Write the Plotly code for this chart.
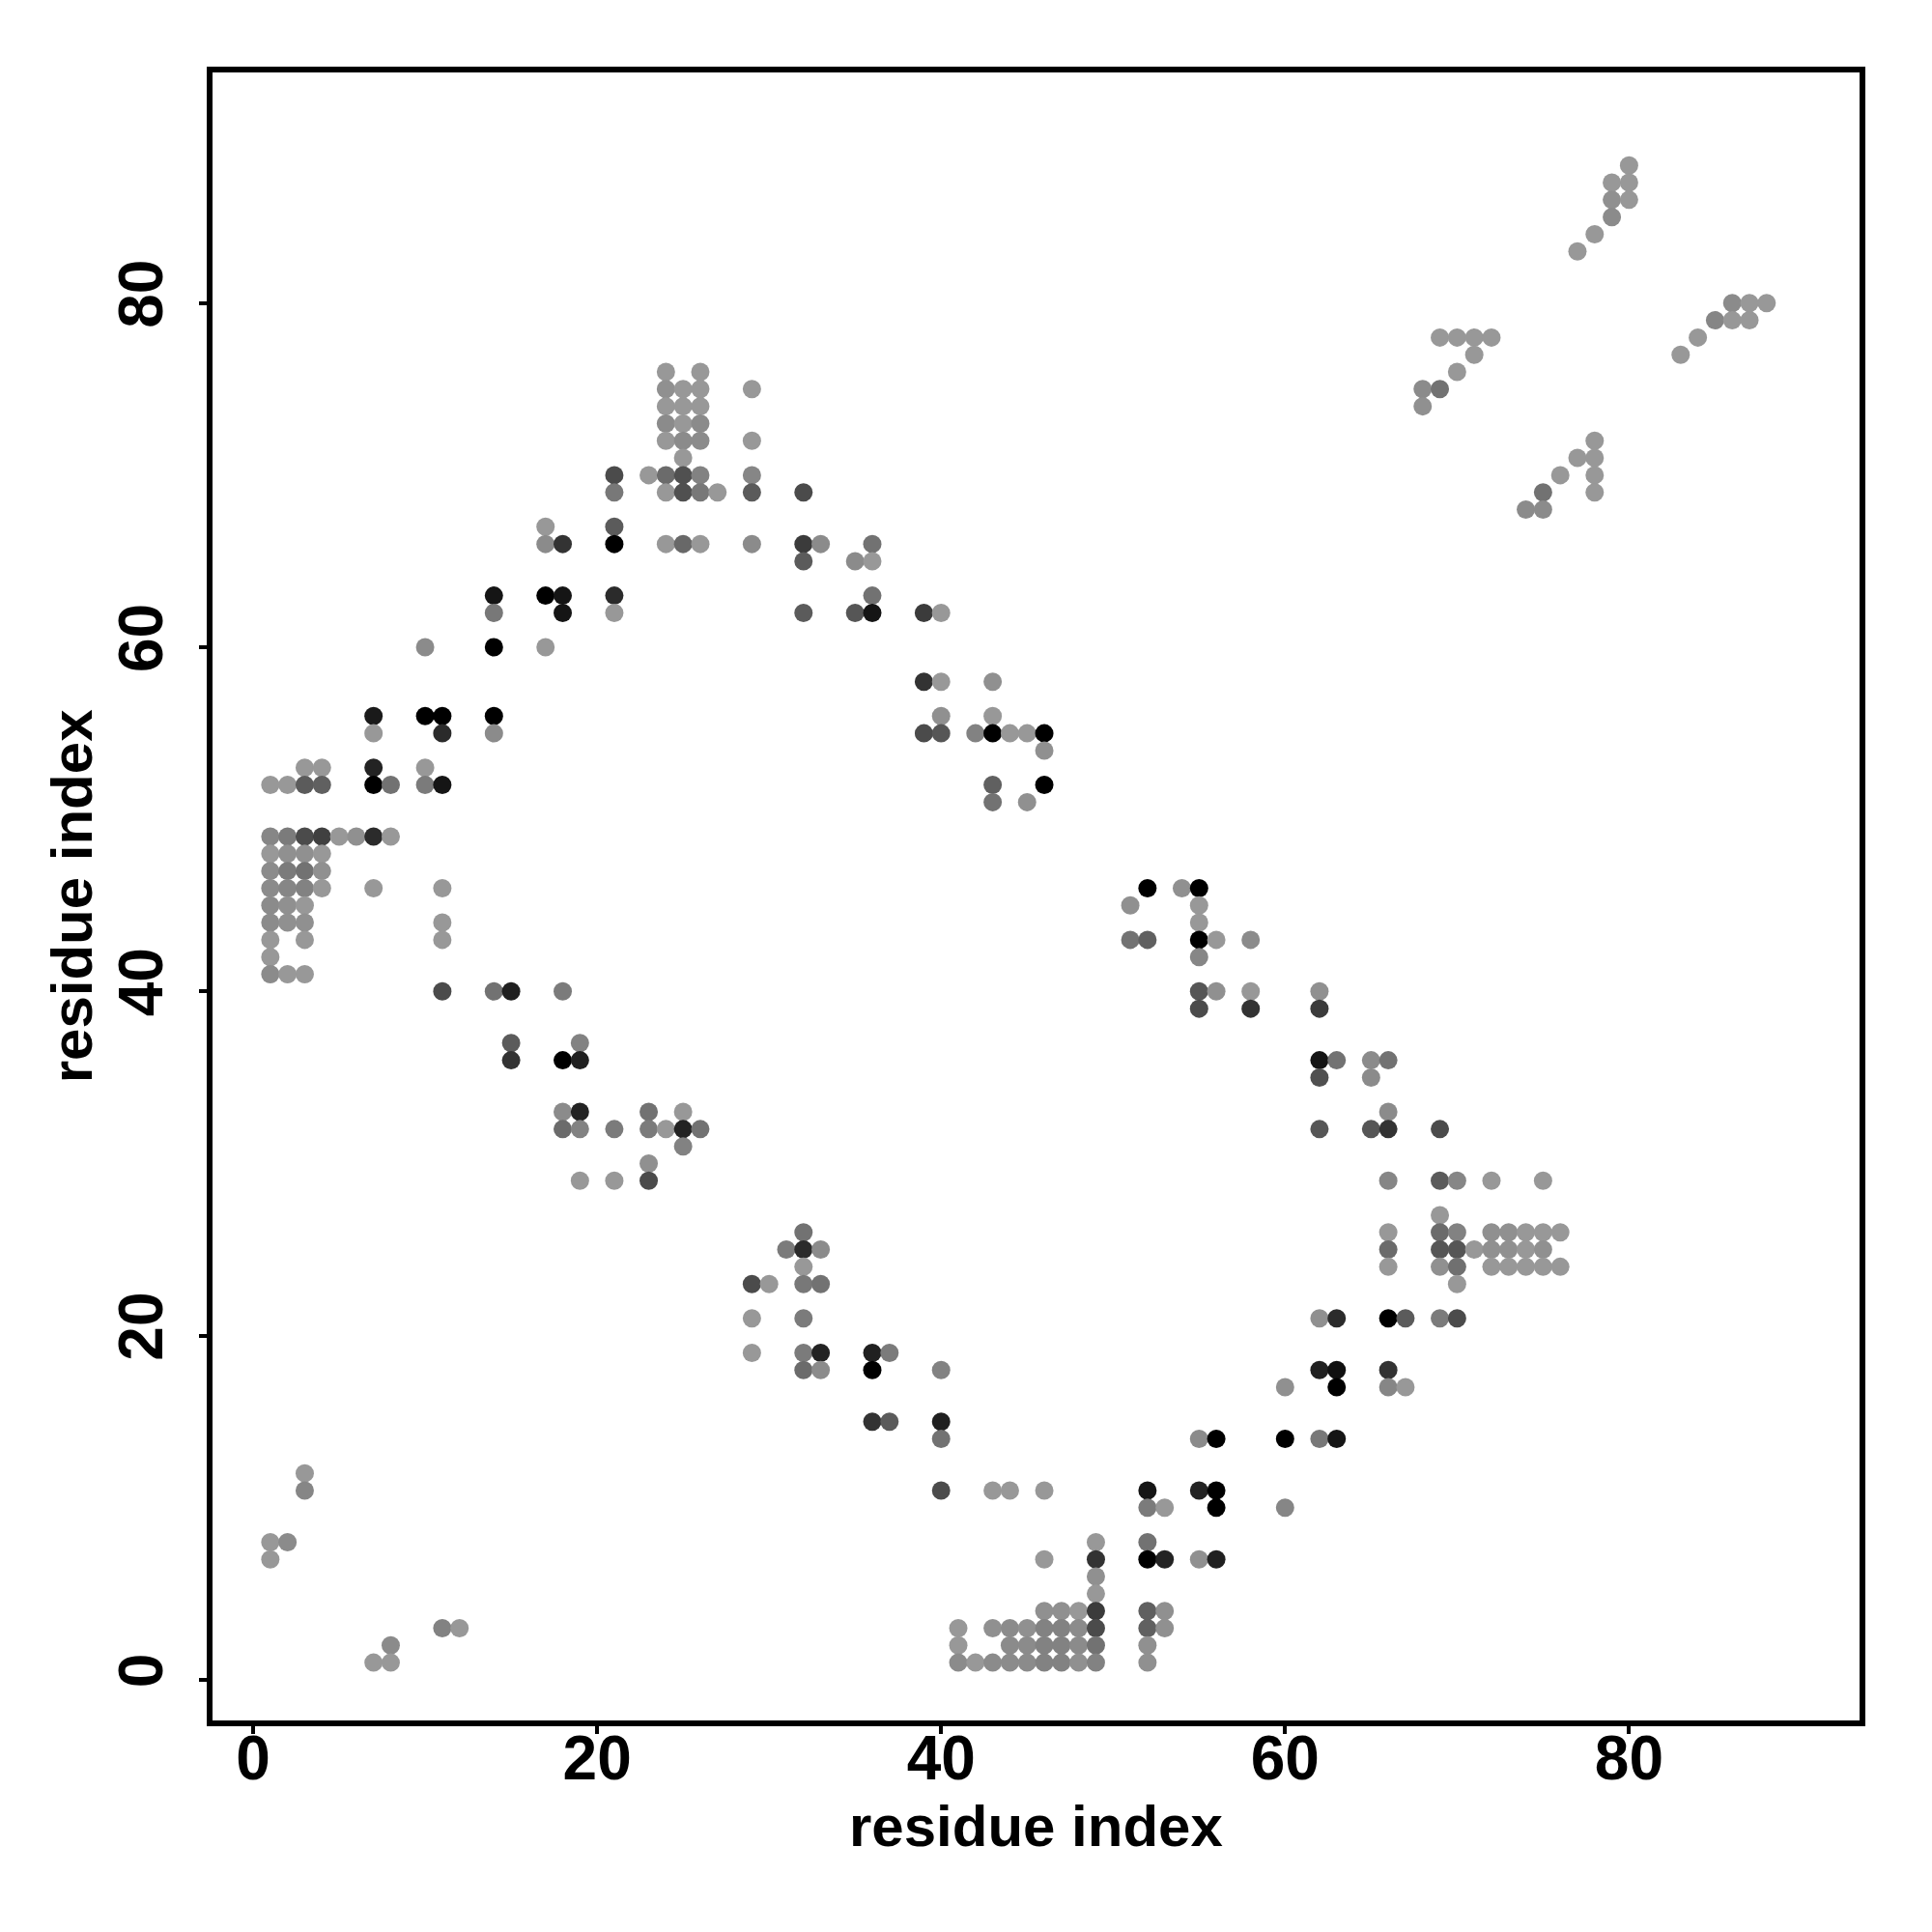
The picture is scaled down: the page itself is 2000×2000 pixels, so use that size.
import plotly.graph_objects as go

# Contact map data, row by row (row = residue index on y axis)
row_index = [88, 87, 86, 85, 84, 83, 80, 79, 78, 77, 76, 75, 74, 73, 72, 71, 70, 69, 68, 67,
             66, 65, 63, 62, 60, 58, 56, 55, 54, 53, 52, 51, 49, 48, 47, 46, 45, 44, 43, 42,
             41, 40, 39, 37, 36, 35, 33, 32, 31, 30, 29, 27, 26, 25, 24, 23, 21, 19, 18, 17,
             15, 14, 12, 11, 10, 8, 7, 6, 5, 4, 3, 2, 1]

row_cols = [
    [80], [79, 80], [79, 80], [79], [78], [77],
    [86, 87, 88], [85, 86, 87], [69, 70, 71, 72, 84], [71, 83],
    [24, 26, 70], [24, 25, 26, 29, 68, 69], [24, 25, 26, 68], [24, 25, 26],
    [24, 25, 26, 29, 78], [25, 77, 78],
    [21, 23, 24, 25, 26, 29, 76, 78],
    [21, 24, 25, 26, 27, 29, 32, 75, 78],
    [74, 75], [17, 21],
    [17, 18, 21, 24, 25, 26, 29, 32, 33, 36],
    [32, 35, 36],
    [14, 17, 18, 21, 36],
    [14, 18, 21, 32, 35, 36, 39, 40],
    [10, 14, 17],
    [39, 40, 43],
    [7, 10, 11, 14, 40, 43],
    [7, 11, 14, 39, 40, 42, 43, 44, 45, 46],
    [46],
    [3, 4, 7, 10],
    [1, 2, 3, 4, 7, 8, 10, 11, 43, 46],
    [43, 45],
    [1, 2, 3, 4, 5, 6, 7, 8],
    [1, 2, 3, 4],
    [1, 2, 3, 4],
    [1, 2, 3, 4, 7, 11, 52, 54, 55],
    [1, 2, 3, 51, 55],
    [1, 2, 3, 11, 55],
    [1, 3, 11, 51, 52, 55, 56, 58],
    [1, 55],
    [1, 2, 3],
    [11, 14, 15, 18, 55, 56, 58, 62],
    [55, 58, 62],
    [15, 19],
    [15, 18, 19, 62, 63, 65, 66],
    [62, 65],
    [18, 19, 23, 25, 66],
    [18, 19, 21, 23, 24, 25, 26, 62, 65, 66, 69],
    [25],
    [23],
    [19, 21, 23, 66, 69, 70, 72, 75],
    [69],
    [32, 66, 69, 70, 72, 73, 74, 75, 76],
    [31, 32, 33, 66, 69, 70, 71, 72, 73, 74, 75],
    [32, 66, 69, 70, 72, 73, 74, 75, 76],
    [29, 30, 32, 33, 70],
    [29, 32, 62, 63, 66, 67, 69, 70],
    [29, 32, 33, 36, 37],
    [32, 33, 36, 40, 62, 63, 66],
    [60, 63, 66, 67],
    [36, 37, 40],
    [40, 55, 56, 60, 62, 63],
    [3],
    [3, 40, 43, 44, 46, 52, 55, 56],
    [52, 53, 56, 60],
    [1, 2, 49, 52],
    [1, 46, 49, 52, 53, 55, 56],
    [49],
    [49],
    [46, 47, 48, 49, 52, 53],
    [11, 12, 41, 43, 44, 45, 46, 47, 48, 49, 52, 53],
    [8, 41, 44, 45, 46, 47, 48, 49, 52],
    [7, 8, 41, 42, 43, 44, 45, 46, 47, 48, 49, 52],
]

row_probs = [
    [.05], [.05, .05], [.10, .05], [.13], [.05], [.05],
    [.13, .05, .05], [.16, .05, .05], [.05, .05, .05, .05, .05], [.05, .05],
    [.05, .05, .05], [.10, .05, .05, .05, .13, .29], [.05, .05, .05, .10], [.13, .05, .13],
    [.05, .13, .13, .05, .05], [.05, .05, .05],
    [.53, .05, .33, .50, .19, .16, .05, .05],
    [.25, .05, .50, .25, .05, .43, .53, .29, .05],
    [.13, .13], [.05, .43],
    [.13, .68, 1.0, .05, .35, .05, .13, .63, .13, .29],
    [.43, .13, .05],
    [.87, 1.0, .87, .73, .29],
    [.25, .87, .05, .43, .46, .87, .63, .05],
    [.13, 1.0, .05],
    [.68, .05, .10],
    [.84, 1.0, 1.0, 1.0, .10, .05],
    [.05, .73, .13, .53, .46, .19, 1.0, .05, .05, 1.0],
    [.10],
    [.05, .05, .78, .05],
    [.05, .05, .43, .40, 1.0, .29, .23, .87, .40, 1.0],
    [.29, .10],
    [.16, .23, .53, .60, .05, .10, .73, .05],
    [.05, .10, .10, .05],
    [.13, .23, .29, .10],
    [.13, .16, .19, .05, .05, .05, 1.0, .10, 1.0],
    [.13, .10, .05, .10, .05],
    [.13, .10, .10, .05, .05],
    [.05, .05, .05, .29, .40, 1.0, .05, .13],
    [.05, .16],
    [.13, .05, .05],
    [.53, .29, .80, .23, .46, .10, .05, .10],
    [.53, .68, .63],
    [.43, .19],
    [.68, 1.0, .80, .87, .29, .13, .29],
    [.50, .13],
    [.13, .78, .29, .05, .13],
    [.33, .19, .23, .23, .05, .78, .29, .46, .46, .68, .53],
    [.19],
    [.10],
    [.05, .05, .53, .16, .43, .16, .05, .05],
    [.05],
    [.29, .05, .33, .19, .10, .10, .05, .05, .05],
    [.23, .73, .13, .33, .46, .46, .05, .10, .10, .05, .10],
    [.05, .05, .10, .30, .05, .05, .05, .05, .05],
    [.53, .05, .25, .29, .05],
    [.05, .23, .10, .73, 1.0, .43, .23, .53],
    [.05, .23, .78, .80, .23],
    [.33, .13, 1.0, .19, .80, .90, .68],
    [.10, 1.0, .16, .05],
    [.68, .43, .80],
    [.29, .13, 1.0, 1.0, .25, .87],
    [.05],
    [.16, .53, .05, .05, .05, .87, .78, 1.0],
    [.23, .05, 1.0, .16],
    [.05, .13, .05, .29],
    [.05, .05, .68, 1.0, .78, .10, .80],
    [.10],
    [.05],
    [.10, .10, .05, .63, .40, .10],
    [.19, .05, .05, .10, .13, .10, .19, .19, .13, .53, .40, .10],
    [.13, .05, .13, .13, .19, .19, .13, .29, .10],
    [.05, .05, .13, .05, .13, .13, .13, .19, .19, .10, .19, .10],
]

tick_values = [0, 20, 40, 60, 80]
axis_title = "residue index"

xs, ys, ps = [], [], []
for yv, cols, probs in zip(row_index, row_cols, row_probs):
    assert len(cols) == len(probs), (yv, cols, probs)
    for xv, pv in zip(cols, probs):
        xs.append(xv)
        ys.append(yv)
        ps.append(pv)

FONT = "Liberation Sans"

fig = go.Figure(
    go.Scatter(
        x=xs, y=ys, mode="markers",
        marker=dict(size=19, color=ps, cmin=0, cmax=1,
                    colorscale=[[0, "#a0a0a0"], [1, "#000000"]],
                    line=dict(width=0), showscale=False),
        showlegend=False, hoverinfo="x+y",
    )
)

axis_common = dict(
    range=[-2.53, 93.57], tickvals=tick_values, ticktext=[str(v) for v in tick_values],
    ticks="outside", ticklen=10, tickwidth=4, tickcolor="black",
    showgrid=False, zeroline=False, showline=False,
    tickfont=dict(family=FONT, size=64, color="black", weight="bold"),
)

fig.update_layout(
    width=2000, height=2000,
    margin=dict(l=209, r=80, t=64, b=224, pad=0),
    paper_bgcolor="white", plot_bgcolor="white",
    xaxis=dict(**axis_common, ticklabelstandoff=-30),
    yaxis=dict(**axis_common, tickangle=-90, ticklabelstandoff=12),
    shapes=[dict(type="rect", xref="paper", yref="paper", x0=0, y0=0, x1=1, y1=1,
                 line=dict(color="black", width=6), fillcolor="rgba(0,0,0,0)", layer="above")],
    annotations=[
        dict(text=axis_title, xref="paper", yref="paper", x=0.5, y=-0.062,
             xanchor="center", yanchor="middle", showarrow=False,
             font=dict(family=FONT, size=60, color="black", weight="bold")),
        dict(text=axis_title, xref="paper", yref="paper", x=-0.0834, y=0.5,
             xanchor="center", yanchor="middle", showarrow=False, textangle=-90,
             font=dict(family=FONT, size=60, color="black", weight="bold")),
    ],
)

fig.write_html("out.html")
